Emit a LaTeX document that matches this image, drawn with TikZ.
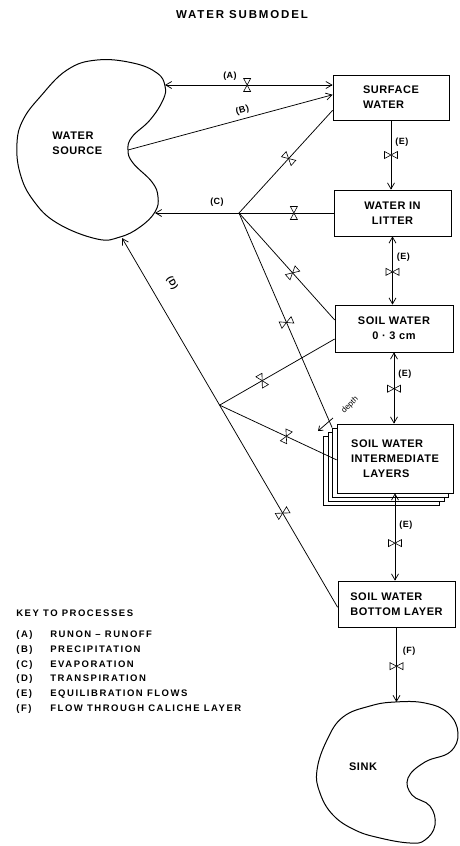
\documentclass[tikz,border=0pt]{standalone}
\usepackage{fontspec}
\setmainfont{Liberation Sans}
\newfontfamily\boxff{Liberation Sans}[LetterSpace=5]
\newfontfamily\keyff{Liberation Sans}[LetterSpace=16]
\newfontfamily\titleff{Liberation Sans}[LetterSpace=16]
\newcommand\ffbox{\boxff\bfseries\fontsize{11pt}{15pt}\selectfont}
\newcommand\ffkey{\keyff\bfseries\fontsize{9.5pt}{15pt}\selectfont}
\newcommand\fftitle{\titleff\bfseries\fontsize{11.5pt}{14pt}\selectfont}
\newcommand\fflbl{\boxff\bfseries\fontsize{9pt}{11pt}\selectfont}
\usetikzlibrary{arrows.meta,calc}
\begin{document}
\begin{tikzpicture}[x=1pt,y=-1pt,line width=0.75pt,
  >={Straight Barb[length=6pt,width=7pt]},
  box/.style={draw,fill=white,inner sep=0pt,font=\ffbox,align=center},
  lbl/.style={font=\fflbl,inner sep=1pt},
  valve/.pic={\draw[-,line width=0.6pt,fill=white] (0,0)--(-3.5pt,6.5pt)--(3.5pt,6.5pt)--cycle (0,0)--(-3.5pt,-6.5pt)--(3.5pt,-6.5pt)--cycle;},
  blob/.style={line width=1pt}
]
\useasboundingbox (0,0) rectangle (460,846);

% title
\node[font=\fftitle,anchor=base] (title) at (242,18) {WATER SUBMODEL};

% water source blob
\draw[blob] plot[smooth cycle,tension=0.7] coordinates {
 (97,60) (133,63) (157,73) (165,86) (163,100) (150,120) (132,137) (128,150)
 (133,163) (152,182) (158,197) (155,212) (140,227) (120,237) (97,239)
 (57,223) (33,200) (20,173) (17,143) (23,120) (40,97) (67,70)};
\node[font=\ffbox,align=left,anchor=west,inner sep=0pt] (srclbl) at (52,143.5) {WATER\\SOURCE};
\coordinate (srcA) at (165,85);
\coordinate (srcB) at (128,150);
\coordinate (srcC) at (155,213);
\coordinate (srcD) at (122,238);

% sink blob
\draw[blob] plot[smooth cycle,tension=0.7] coordinates {
 (395,702) (425,703) (448,713) (458,733) (450,752) (425,762) (408,778) (412,795)
 (430,806) (435,825) (425,840) (410,843) (380,838) (355,830) (333,815) (320,793)
 (317,770) (327,740) (343,717) (370,706)};
\node[font=\ffbox,inner sep=0pt] (sinklbl) at (363,767) {SINK};
\coordinate (sinkT) at (396.5,702);

% boxes
\node[box,align=left,minimum width=116pt,minimum height=45pt] (surf) at (391,97.5) {SURFACE\\WATER};
\node[box,minimum width=117pt,minimum height=46pt] (litter) at (392.5,213) {WATER IN\\LITTER};
\node[box,minimum width=118pt,minimum height=47pt] (soil) at (394,328.5) {SOIL WATER\\0 · 3 cm};
\node[box,minimum width=116pt,minimum height=69pt] (inter3) at (381.5,470.5) {};
\node[box,minimum width=116pt,minimum height=69pt] (inter2) at (386,466.5) {};
\node[box,minimum width=116pt,minimum height=69pt] (inter1) at (390.5,462.5) {};
\node[box,align=left,minimum width=116pt,minimum height=69pt] (inter) at (395,458.5) {SOIL WATER\\INTERMEDIATE\\\hspace*{12pt}LAYERS};
\node[box,align=left,minimum width=117pt,minimum height=46pt] (bottom) at (396.5,604) {SOIL WATER\\BOTTOM LAYER};

% junctions and attachment points
\coordinate (jc) at (239,213);
\coordinate (surfC) at ($(surf.north west)!0.78!(surf.south west)$);
\coordinate (surfB) at ($(surf.north west)!0.44!(surf.south west)$);
\coordinate (soilC) at ($(soil.north west)!0.32!(soil.south west)$);
\coordinate (soilD) at ($(soil.north west)!0.72!(soil.south west)$);
\coordinate (interD) at ($(inter.north west)!0.52!(inter.south west)$);
\coordinate (botD) at ($(bottom.north west)!0.57!(bottom.south west)$);
\coordinate (jd) at ($(srcD)!0.4526!(botD)$);

% (A) runon-runoff
\draw[<->] (srcA) -- (surf.west |- srcA) pic[pos=.49,sloped]{valve};
\node[lbl] (labA) at (230,76) {(A)};
% (B) precipitation
\draw[->] (srcB) -- (surfB) node[lbl,pos=.57,above=3pt,sloped] (labB) {(B)};
% (C) evaporation
\draw (litter.west) -- (jc) pic[pos=.42,sloped]{valve};
\draw[->] (jc) -- (srcC);
\node[lbl] (labC) at (217,202) {(C)};
\draw (jc) -- (surfC) pic[pos=.53,sloped]{valve};
\draw (jc) -- (soilC) pic[pos=.56,sloped]{valve};
\draw (jc) -- (inter1.north west) pic[pos=.51,sloped]{valve};
% (D) transpiration
\draw[->] (botD) -- (srcD) pic[pos=.255,sloped]{valve};
\node[lbl,rotate=-60] (labD) at (172,283) {(D)};
\draw (jd) -- (soilD) pic[pos=.37,sloped]{valve};
\draw (jd) -- (interD) pic[pos=.57,sloped]{valve};

% depth
\coordinate (dA) at (333,418);
\coordinate (dB) at (318,431);
\draw[-{Straight Barb[length=4pt,width=6pt]}] (dA) -- (dB);
\node[font=\fontsize{8pt}{9pt}\selectfont,rotate=45,inner sep=0pt] (depth) at (350,405) {depth};

% (E) equilibration flows
\draw[->] (surf.south) -- (surf.south |- litter.north) pic[pos=.5,sloped]{valve} node[lbl,pos=.31,right=3pt] (labE1) {(E)};
\draw[<->] (litter.south) -- (litter.south |- soil.north) pic[pos=.52,sloped]{valve} node[lbl,pos=.3,right=3pt] (labE2) {(E)};
\draw[<->] (soil.south) -- (soil.south |- inter.north) pic[pos=.51,sloped]{valve} node[lbl,pos=.31,right=3pt] (labE3) {(E)};
\draw[<->] (inter.south) -- (inter.south |- bottom.north) pic[pos=.57,sloped]{valve} node[lbl,pos=.36,right=3pt] (labE4) {(E)};
% (F) caliche
\draw[->] (bottom.south) -- (sinkT) pic[pos=.52,sloped]{valve} node[lbl,pos=.32,right=5pt] (labF) {(F)};

% key
\node[font=\ffkey,anchor=base west,inner sep=0pt] (keyh) at (16,616.5) {KEY TO PROCESSES};
\foreach \l/\t [count=\i] in {A/RUNON – RUNOFF,B/PRECIPITATION,C/EVAPORATION,D/TRANSPIRATION,E/EQUILIBRATION FLOWS,F/FLOW THROUGH CALICHE LAYER}{
  \node[font=\ffkey,anchor=base west,inner sep=0pt] (keyl\i) at (16,{637.4+14.8*(\i-1)}) {(\l)};
  \node[font=\ffkey,anchor=base west,inner sep=0pt] (keyt\i) at (50,{637.4+14.8*(\i-1)}) {\t};
}
\end{tikzpicture}
\end{document}
